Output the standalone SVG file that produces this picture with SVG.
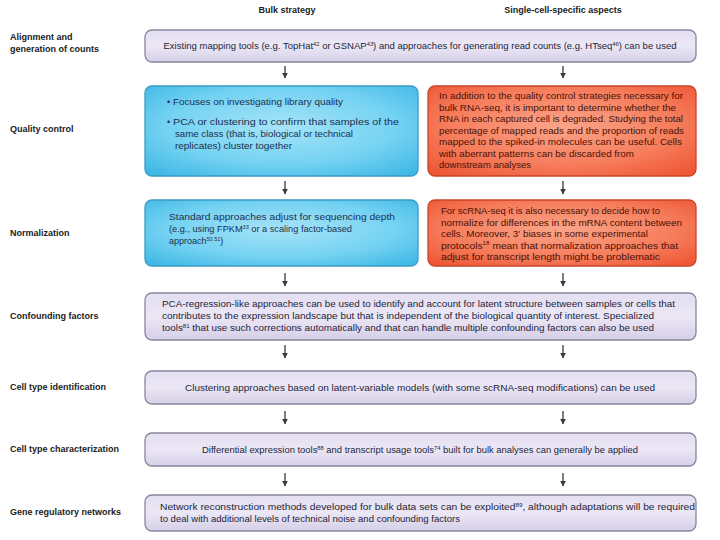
<svg xmlns="http://www.w3.org/2000/svg" width="720" height="540" viewBox="0 0 720 540">
<defs>
<linearGradient id="gP" x1="0" y1="0" x2="0" y2="1">
<stop offset="0" stop-color="#e4dff1"/><stop offset="0.5" stop-color="#ebe7f5"/><stop offset="1" stop-color="#d6cfe8"/>
</linearGradient>
<radialGradient id="gB" cx="0.5" cy="0.45" r="0.7">
<stop offset="0" stop-color="#a6e4f8"/><stop offset="0.6" stop-color="#74d2f2"/><stop offset="1" stop-color="#3fb8e6"/>
</radialGradient>
<radialGradient id="gR" cx="0.5" cy="0.45" r="0.7">
<stop offset="0" stop-color="#fba58a"/><stop offset="0.6" stop-color="#f67d5c"/><stop offset="1" stop-color="#ee5634"/>
</radialGradient>
<marker id="ah" viewBox="0 0 10 10" refX="9" refY="5" markerWidth="6" markerHeight="6" orient="auto" markerUnits="userSpaceOnUse">
<path d="M0,0 L10,5 L0,10 Z" fill="#3a3a3a"/>
</marker>
<style>
text{font-family:"Liberation Sans",Arial,sans-serif;}
.hd{font-size:9px;font-weight:bold;fill:#222;}
.lb{font-size:9px;font-weight:bold;fill:#222;}
.pt{font-size:9px;fill:#24243a;}
.bt{font-size:9px;fill:#1a3050;}
.rt{font-size:9px;fill:#4a1208;}
.pb{fill:url(#gP);stroke:#8b859c;stroke-width:1.3;}
.bb{fill:url(#gB);stroke:#3a9cc4;stroke-width:1.3;}
.rb{fill:url(#gR);stroke:#c84428;stroke-width:1.3;}
.ar{stroke:#3a3a3a;stroke-width:1.3;fill:none;marker-end:url(#ah);}
.sup{font-size:5.5px;}
</style>
</defs>
<rect width="720" height="540" fill="#ffffff"/>
<g id="headers">
<text class="hd" x="287" y="13" text-anchor="middle">Bulk strategy</text>
<text class="hd" x="563" y="13" text-anchor="middle">Single-cell-specific aspects</text>
</g>
<g id="row-labels">
<text class="lb" x="10" y="40">Alignment and</text>
<text class="lb" x="10" y="52">generation of counts</text>
<text class="lb" x="10" y="132">Quality control</text>
<text class="lb" x="10" y="236">Normalization</text>
<text class="lb" x="10" y="319">Confounding factors</text>
<text class="lb" x="10" y="390">Cell type identification</text>
<text class="lb" x="10" y="452">Cell type characterization</text>
<text class="lb" x="10" y="515">Gene regulatory networks</text>
</g>
<g id="alignment">
<rect class="pb" x="145" y="30" width="551" height="32" rx="7"/>
<text class="pt" x="420" y="49" text-anchor="middle" textLength="513" lengthAdjust="spacingAndGlyphs">Existing mapping tools (e.g. TopHat<tspan class="sup" dy="-3.5">42</tspan><tspan dy="3.5"> or GSNAP</tspan><tspan class="sup" dy="-3.5">43</tspan><tspan dy="3.5">) and approaches for generating read counts (e.g. HTseq</tspan><tspan class="sup" dy="-3.5">46</tspan><tspan dy="3.5">) can be used</tspan></text>
</g>
<g id="qc-bulk">
<rect class="bb" x="145" y="86" width="273" height="90" rx="7"/>
<text class="bt" x="167" y="105">•</text>
<text class="bt" x="173" y="105" textLength="170" lengthAdjust="spacingAndGlyphs">Focuses on investigating library quality</text>
<text class="bt" x="167" y="125">•</text>
<text class="bt" x="173" y="125" textLength="226" lengthAdjust="spacingAndGlyphs">PCA or clustering to confirm that samples of the</text>
<text class="bt" x="175" y="137" textLength="178" lengthAdjust="spacingAndGlyphs">same class (that is, biological or technical</text>
<text class="bt" x="175" y="149" textLength="117" lengthAdjust="spacingAndGlyphs">replicates) cluster together</text>
</g>
<g id="qc-sc">
<rect class="rb" x="428" y="86" width="268" height="90" rx="7"/>
<text class="rt" x="439" y="99" textLength="244" lengthAdjust="spacingAndGlyphs">In addition to the quality control strategies necessary for</text>
<text class="rt" x="439" y="110.5" textLength="237" lengthAdjust="spacingAndGlyphs">bulk RNA-seq, it is important to determine whether the</text>
<text class="rt" x="439" y="122" textLength="244" lengthAdjust="spacingAndGlyphs">RNA in each captured cell is degraded. Studying the total</text>
<text class="rt" x="439" y="133.5" textLength="245" lengthAdjust="spacingAndGlyphs">percentage of mapped reads and the proportion of reads</text>
<text class="rt" x="439" y="145" textLength="243" lengthAdjust="spacingAndGlyphs">mapped to the spiked-in molecules can be useful. Cells</text>
<text class="rt" x="439" y="156.5" textLength="195" lengthAdjust="spacingAndGlyphs">with aberrant patterns can be discarded from</text>
<text class="rt" x="439" y="168" textLength="92" lengthAdjust="spacingAndGlyphs">downstream analyses</text>
</g>
<g id="norm-bulk">
<rect class="bb" x="145" y="200" width="273" height="66" rx="7"/>
<text class="bt" x="169" y="220" textLength="226" lengthAdjust="spacingAndGlyphs">Standard approaches adjust for sequencing depth</text>
<text class="bt" x="169" y="232" textLength="183" lengthAdjust="spacingAndGlyphs">(e.g., using FPKM<tspan class="sup" dy="-3.5">33</tspan><tspan dy="3.5"> or a scaling factor-based</tspan></text>
<text class="bt" x="169" y="244">approach<tspan class="sup" dy="-3.5">50,51</tspan><tspan dy="3.5">)</tspan></text>
</g>
<g id="norm-sc">
<rect class="rb" x="428" y="200" width="268" height="66" rx="7"/>
<text class="rt" x="441" y="214" textLength="219" lengthAdjust="spacingAndGlyphs">For scRNA-seq it is also necessary to decide how to</text>
<text class="rt" x="441" y="225.5" textLength="241" lengthAdjust="spacingAndGlyphs">normalize for differences in the mRNA content between</text>
<text class="rt" x="441" y="237" textLength="207" lengthAdjust="spacingAndGlyphs">cells. Moreover, 3′ biases in some experimental</text>
<text class="rt" x="441" y="248.5" textLength="237" lengthAdjust="spacingAndGlyphs">protocols<tspan class="sup" dy="-3.5">18</tspan><tspan dy="3.5"> mean that normalization approaches that</tspan></text>
<text class="rt" x="441" y="260" textLength="219" lengthAdjust="spacingAndGlyphs">adjust for transcript length might be problematic</text>
</g>
<g id="confounding">
<rect class="pb" x="145" y="293" width="551" height="47" rx="7"/>
<text class="pt" x="162" y="307" textLength="513" lengthAdjust="spacingAndGlyphs">PCA-regression-like approaches can be used to identify and account for latent structure between samples or cells that</text>
<text class="pt" x="162" y="319" textLength="492" lengthAdjust="spacingAndGlyphs">contributes to the expression landscape but that is independent of the biological quantity of interest. Specialized</text>
<text class="pt" x="162" y="331" textLength="492" lengthAdjust="spacingAndGlyphs">tools<tspan class="sup" dy="-3.5">81</tspan><tspan dy="3.5"> that use such corrections automatically and that can handle multiple confounding factors can also be used</tspan></text>
</g>
<g id="cell-type-identification">
<rect class="pb" x="145" y="371" width="551" height="33" rx="7"/>
<text class="pt" x="420" y="391" text-anchor="middle" textLength="470" lengthAdjust="spacingAndGlyphs">Clustering approaches based on latent-variable models (with some scRNA-seq modifications) can be used</text>
</g>
<g id="cell-type-characterization">
<rect class="pb" x="145" y="433" width="551" height="33" rx="7"/>
<text class="pt" x="420" y="453" text-anchor="middle" textLength="436" lengthAdjust="spacingAndGlyphs">Differential expression tools<tspan class="sup" dy="-3.5">88</tspan><tspan dy="3.5"> and transcript usage tools</tspan><tspan class="sup" dy="-3.5">74</tspan><tspan dy="3.5"> built for bulk analyses can generally be applied</tspan></text>
</g>
<g id="gene-regulatory-networks">
<rect class="pb" x="145" y="495" width="551" height="36" rx="7"/>
<text class="pt" x="160" y="510" textLength="535" lengthAdjust="spacingAndGlyphs">Network reconstruction methods developed for bulk data sets can be exploited<tspan class="sup" dy="-3.5">89</tspan><tspan dy="3.5">, although adaptations will be required</tspan></text>
<text class="pt" x="160" y="522" textLength="300" lengthAdjust="spacingAndGlyphs">to deal with additional levels of technical noise and confounding factors</text>
</g>
<g id="connectors">
<line class="ar" x1="285" y1="66" x2="285" y2="78"/>
<line class="ar" x1="563" y1="66" x2="563" y2="78"/>
<line class="ar" x1="285" y1="181" x2="285" y2="194"/>
<line class="ar" x1="563" y1="181" x2="563" y2="194"/>
<line class="ar" x1="285" y1="273" x2="285" y2="286"/>
<line class="ar" x1="563" y1="273" x2="563" y2="286"/>
<line class="ar" x1="285" y1="345" x2="285" y2="358"/>
<line class="ar" x1="563" y1="345" x2="563" y2="358"/>
<line class="ar" x1="285" y1="411" x2="285" y2="424"/>
<line class="ar" x1="563" y1="411" x2="563" y2="424"/>
<line class="ar" x1="285" y1="473" x2="285" y2="486"/>
<line class="ar" x1="563" y1="473" x2="563" y2="486"/>
</g>
</svg>
